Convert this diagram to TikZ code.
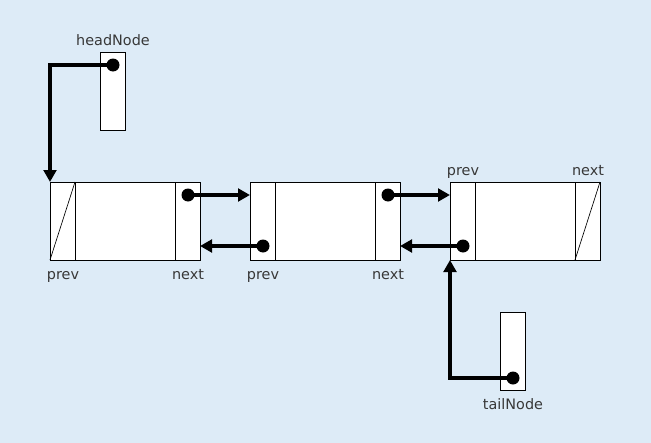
\documentclass[tikz,border=0pt]{standalone}
\usepackage{fontspec}
\setmainfont{DejaVu Sans}
\usetikzlibrary{arrows.meta}
\definecolor{bg}{HTML}{DDEBF7}
\definecolor{txt}{HTML}{383838}
\begin{document}
\begin{tikzpicture}[x=0.75pt,y=-0.75pt,
 box/.style={draw=black,fill=white,line width=0.75pt,inner sep=0,outer sep=0},
 listnode/.style={box,minimum width=112.5pt,minimum height=58.5pt},
 ptrbox/.style={box,minimum width=18.75pt,minimum height=58.5pt},
 thin/.style={line width=0.75pt},
 dot/.style={circle,fill=black,inner sep=0,minimum size=9.75pt},
 link/.style={line width=3pt,-{Triangle[length=9pt,width=9.5pt]}},
 lbl/.style={text=txt,font=\fontsize{10.8}{12}\selectfont,inner sep=0,anchor=base}]
\useasboundingbox (0,0) rectangle (651,443);
\fill[bg] (0,0) rectangle (651,443);
% pointer boxes
\node[ptrbox] (head) at (112.5,91) {};
\node[ptrbox] (tail) at (512.5,351) {};
% list nodes
\node[listnode] (n1) at (125,221) {};
\node[listnode] (n2) at (325,221) {};
\node[listnode] (n3) at (525,221) {};
\foreach \n in {n1,n2,n3}{
  \draw[thin] ([xshift=18.75pt]\n.north west) -- ([xshift=18.75pt]\n.south west);
  \draw[thin] ([xshift=-18.75pt]\n.north east) -- ([xshift=-18.75pt]\n.south east);
}
\draw[line width=0.5pt] (n1.south west) -- ([xshift=18.75pt]n1.north west);
\draw[line width=0.5pt] ([xshift=-18.75pt]n3.south east) -- (n3.north east);
% dots
\node[dot] (hd) at (113,65) {};
\node[dot] (td) at (513,378) {};
\node[dot] (n1n) at (188,195) {};
\node[dot] (n2p) at (263,246) {};
\node[dot] (n2n) at (388,195) {};
\node[dot] (n3p) at (463,246) {};
% connectors
\draw[link] (hd.center) -| (n1.north west);
\draw[link] (td.center) -| (n3.south west);
\draw[link] (n1n.center) -- (n1n.center -| n2.west);
\draw[link] (n2n.center) -- (n2n.center -| n3.west);
\draw[link] (n2p.center) -- (n2p.center -| n1.east);
\draw[link] (n3p.center) -- (n3p.center -| n2.east);
% labels
\node[lbl] (lhead) at (113,45) {headNode};
\node[lbl] (ltail) at (513,409) {tailNode};
\node[lbl] (l1p) at (63,279) {prev};
\node[lbl] (l1n) at (188,279) {next};
\node[lbl] (l2p) at (263,279) {prev};
\node[lbl] (l2n) at (388,279) {next};
\node[lbl] (l3p) at (463,175) {prev};
\node[lbl] (l3n) at (588,175) {next};
\end{tikzpicture}
\end{document}
